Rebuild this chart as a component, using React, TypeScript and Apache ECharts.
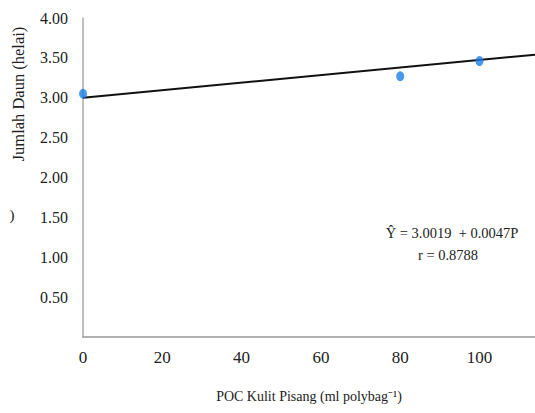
import React, { useEffect, useRef } from "react";
import * as echarts from "echarts";

const doseX = [0, 80, 100];
const leafCount = [3.05, 3.27, 3.46];
const trendX = [0, 114];
const trendY = [3.0, 3.54];
const xTicks = [0, 20, 40, 60, 80, 100];
const yTicks = [0.5, 1.0, 1.5, 2.0, 2.5, 3.0, 3.5, 4.0];
const equationLines = ["Ŷ = 3.0019  + 0.0047P", "r = 0.8788"];
const yTitle = "Jumlah Daun (helai)";
const xTitle = "POC Kulit Pisang (ml polybag⁻¹)";

const FONT = "Liberation Serif";

export default function App() {
  const ref = useRef<HTMLDivElement>(null);
  useEffect(() => {
    if (!ref.current) return;
    const chart = echarts.init(ref.current, null, { renderer: "svg" });
    chart.setOption({
      animation: false,
      backgroundColor: "#ffffff",
      textStyle: { fontFamily: FONT },
      grid: { left: 83, right: 0, top: 18, bottom: 76, containLabel: false },
      xAxis: {
        type: "value",
        min: 0,
        max: 114,
        interval: 20,
        name: xTitle,
        nameLocation: "middle",
        nameGap: 52,
        nameTextStyle: { fontFamily: FONT, fontSize: 14, color: "#222" },
        axisLine: { show: true, lineStyle: { color: "#999", width: 1.5 } },
        axisTick: { show: false },
        splitLine: { show: false },
        axisLabel: {
          showMaxLabel: false,
          margin: 12,
          fontFamily: FONT,
          fontSize: 17,
          color: "#222",
          formatter: (v: number) => (xTicks.includes(v) ? String(v) : ""),
        },
      },
      yAxis: {
        type: "value",
        min: 0,
        max: 4,
        interval: 0.5,
        axisLine: { show: true, lineStyle: { color: "#aaa", width: 1.5 } },
        axisTick: { show: false },
        splitLine: { show: false },
        axisLabel: {
          margin: 15,
          fontFamily: FONT,
          fontSize: 16,
          color: "#222",
          formatter: (v: number) => (yTicks.some((t) => Math.abs(t - v) < 1e-6) ? v.toFixed(2) : ""),
        },
      },
      series: [
        {
          type: "line",
          data: trendX.map((x, i) => [x, trendY[i]]),
          symbol: "none",
          lineStyle: { color: "#111", width: 2 },
          z: 2,
        },
        {
          type: "scatter",
          data: doseX.map((x, i) => [x, leafCount[i]]),
          symbol: "circle",
          symbolSize: [8, 10],
          itemStyle: { color: "#1a7ee6" },
          z: 3,
        },
      ],
      graphic: [
        {
          type: "text",
          x: 18,
          y: 94,
          rotation: Math.PI / 2,
          style: {
            text: yTitle,
            font: `16.5px "Liberation Serif"`,
            fill: "#222",
            align: "center",
            verticalAlign: "middle",
          },
        },
        {
          type: "text",
          x: 12,
          y: 215,
          style: {
            text: ")",
            font: `15px "Liberation Serif"`,
            fill: "#222",
            align: "center",
            verticalAlign: "middle",
          },
        },
        {
          type: "text",
          x: 452,
          y: 233,
          style: {
            text: equationLines[0],
            font: `14.5px "Liberation Serif"`,
            fill: "#222",
            align: "center",
            verticalAlign: "middle",
          },
        },
        {
          type: "text",
          x: 448,
          y: 255,
          style: {
            text: equationLines[1],
            font: `14.5px "Liberation Serif"`,
            fill: "#222",
            align: "center",
            verticalAlign: "middle",
          },
        },
      ],
    });
    return () => chart.dispose();
  }, []);
  return <div ref={ref} style={{ width: 535, height: 413, position: "absolute", left: 0, top: 0 }} />;
}
